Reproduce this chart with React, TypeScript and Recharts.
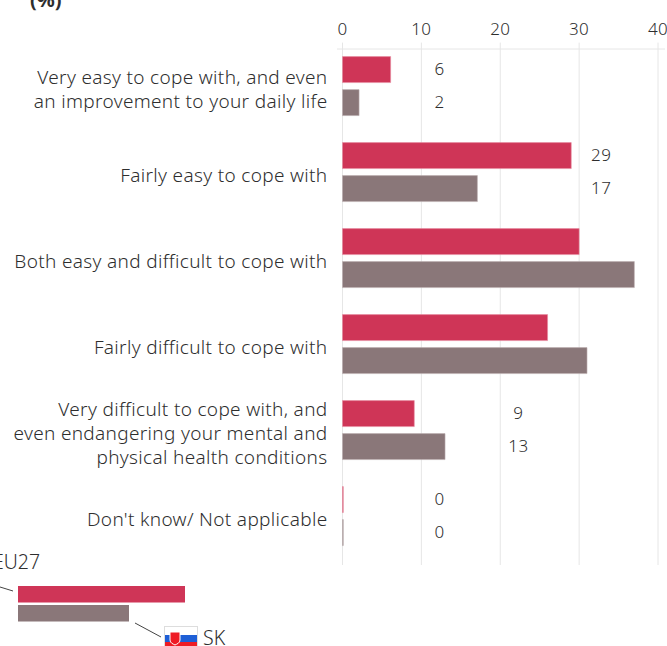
import { Bar, BarChart, CartesianGrid, LabelList, XAxis, YAxis } from "recharts";

const categories = [
  "Very easy to cope with, and even\nan improvement to your daily life",
  "Fairly easy to cope with",
  "Both easy and difficult to cope with",
  "Fairly difficult to cope with",
  "Very difficult to cope with, and\neven endangering your mental and\nphysical health conditions",
  "Don't know/ Not applicable",
];
const eu27 = [6.1, 29, 30, 26, 9.1, 0.1];
const sk = [2.1, 17.1, 37, 31, 13, 0.1];
// where the value labels sit, in axis units (null = the source prints no label)
const labelColumn = [12.3, 32.8, null, null, 22.3, 12.3];
const xTicks = [0, 10, 20, 30, 40];

const rows = categories.map((name, i) => ({
  name,
  eu27: eu27[i],
  sk: sk[i],
  column: labelColumn[i],
}));

const FONT = "'Noto Sans', sans-serif";
const TEXT = "#2e2e2e";
const RED = "#cf3557";
const GREY = "#8a7779";
const PLOT_LEFT = 342.5;
const PLOT_RIGHT = 658;
const UNIT = (PLOT_RIGHT - PLOT_LEFT) / 40;

const CategoryTick = ({ x, y, payload }: any) => {
  const lines = String(payload.value).split("\n");
  const first = 5.5 - ((lines.length - 1) * 24) / 2;
  return (
    <text
      x={x}
      y={y}
      textAnchor="end"
      fontFamily={FONT}
      fontSize={19}
      fontWeight={300}
      letterSpacing={0.33}
      fill={TEXT}
    >
      {lines.map((l, i) => (
        <tspan key={i} x={x} y={y + first + i * 24} dominantBaseline="middle">
          {l}
        </tspan>
      ))}
    </text>
  );
};

const ValueLabel = ({ x, y, height, value, index }: any) => {
  const col = labelColumn[index];
  if (col === null) return null;
  return (
    <text
      x={x + col * UNIT}
      y={y + height / 2 + 1}
      textAnchor="middle"
      dominantBaseline="middle"
      fontFamily={FONT}
      fontSize={17}
      fontWeight={300}
      letterSpacing={0.4}
      fill={TEXT}
    >
      {Math.round(value)}
    </text>
  );
};

const LegendOverlay = () => (
  <svg width={667} height={646} style={{ position: "absolute", left: 0, top: 0 }}>
    <line x1={337} x2={665} y1={49} y2={49} stroke="#e6e6e6" />
    <text x={30} y={7} fontFamily={FONT} fontSize={20} fontWeight={700} fill={TEXT}>
      (%)
    </text>
    <text x={-7} y={569} fontFamily={FONT} fontSize={19.5} fontWeight={300} fill={TEXT}>
      EU27
    </text>
    <line x1={0} y1={587} x2={13} y2={591} stroke="#444" />
    <rect x={18} y={586} width={167} height={16.5} fill={RED} />
    <rect x={18} y={605} width={111} height={16.5} fill={GREY} />
    <line x1={135} y1={623} x2={161} y2={637} stroke="#444" />
    <rect x={164.5} y={626.5} width={33} height={22} fill="#fff" stroke="#ddd" />
    <rect x={165} y={635} width={32} height={8} fill="#1e5fd6" />
    <rect x={165} y={642} width={32} height={5} fill="#ee1c25" />
    <path d="M170 632h10v8c0 3-3 4-5 5c-2-1-5-2-5-5z" fill="#ee1c25" stroke="#fff" />
    <text x={203} y={645} fontFamily={FONT} fontSize={19.5} fontWeight={300} fill={TEXT}>
      SK
    </text>
  </svg>
);

const App = () => (
  <div style={{ position: "absolute", left: 0, top: 0, width: 667, height: 646, overflow: "hidden" }}>
    <BarChart
      width={667}
      height={646}
      data={rows}
      layout="vertical"
      barSize={26}
      barGap={7}
      margin={{ top: 0, right: 667 - PLOT_RIGHT, left: 0, bottom: 81 }}
    >
      <CartesianGrid horizontal={false} stroke="#e6e6e6" />
      <XAxis
        type="number"
        orientation="top"
        domain={[0, 40]}
        ticks={xTicks}
        height={42.6}
        axisLine={false}
        tickLine={false}
        tickSize={0}
        tickMargin={8}
        interval={0}
        tick={{ fontFamily: FONT, fontSize: 17, fontWeight: 300, letterSpacing: 0.4, fill: TEXT }}
      />
      <YAxis
        type="category"
        dataKey="name"
        width={PLOT_LEFT}
        axisLine={false}
        tickLine={false}
        tickSize={0}
        tickMargin={15}
        interval={0}
        padding={{ top: 0, bottom: 6.4 }}
        tick={<CategoryTick />}
      />
      <Bar dataKey="eu27" fill={RED} stroke="#e58ba0" strokeWidth={0.6} isAnimationActive={false}>
        <LabelList dataKey="eu27" content={<ValueLabel />} />
      </Bar>
      <Bar dataKey="sk" fill={GREY} stroke="#bcaeb0" strokeWidth={0.6} isAnimationActive={false}>
        <LabelList dataKey="sk" content={<ValueLabel />} />
      </Bar>
    </BarChart>
    <LegendOverlay />
  </div>
);

export default App;
